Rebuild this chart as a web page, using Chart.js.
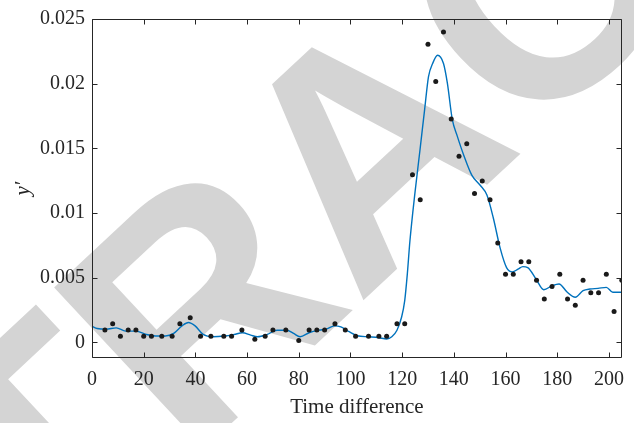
<!DOCTYPE html>
<html>
<head>
<meta charset="utf-8">
<script src="https://cdn.jsdelivr.net/npm/chart.js@4.4.0/dist/chart.umd.min.js"></script>
<style>
  html, body { margin: 0; padding: 0; background: #fff; }
  #wrap { width: 634px; height: 423px; position: relative; }
</style>
</head>
<body>
<div id="wrap"><canvas id="fitChart"></canvas></div>
<script>
// measured samples (black dots)
const sampleX = [5, 8, 11, 14, 17, 20, 23, 27, 31, 34, 38, 42, 46, 51, 54, 58, 63, 67, 70, 75,
  80, 84, 87, 90, 94, 98, 102, 107, 111, 114, 118, 121, 124, 127, 130, 133, 136, 139, 142, 145,
  148, 151, 154, 157, 160, 163, 166, 169, 172, 175, 178, 181, 184, 187, 190, 193, 196, 199, 202, 205];
const sampleY = [0.00096, 0.00144, 0.00048, 0.00096, 0.00096, 0.00048, 0.00048, 0.00048, 0.00048, 0.00144,
  0.00192, 0.00048, 0.00048, 0.00048, 0.00048, 0.00096, 0.00024, 0.00048, 0.00096, 0.00096,
  0.00016, 0.00096, 0.00096, 0.00096, 0.00144, 0.00096, 0.00048, 0.00048, 0.00048, 0.00048,
  0.00144, 0.00144, 0.01296, 0.01104, 0.02304, 0.02016, 0.024, 0.01728, 0.0144, 0.01536,
  0.01152, 0.01248, 0.01104, 0.00768, 0.00528, 0.00528, 0.00624, 0.00624, 0.0048, 0.00336,
  0.00432, 0.00528, 0.00336, 0.00288, 0.0048, 0.00384, 0.00384, 0.00528, 0.0024, 0.0048];

// smoothed fit (blue curve)
const fitX = [0, 2, 5.5, 9.4, 13, 17, 21, 24.6, 28.4, 31.6, 34.8, 37.3, 39.9, 43, 46.8, 51.3, 55, 58.2,
  61.4, 64, 67.8, 71.6, 75.4, 78, 80.5, 84.2, 88, 90.6, 93.8, 96.3, 99.5, 102.7, 107, 111, 114, 116,
  118, 119.8, 121, 122, 123, 125, 126.8, 128.7, 130.2, 131.8, 133.7, 136, 137.5, 139.4, 141.3, 143.9,
  147, 150.2, 152.8, 155.3, 157.9, 160.4, 162.7, 164.8, 166.7, 168.6, 171.8, 174.8, 178.1, 180.7,
  183.9, 187, 190, 192.7, 195.8, 199, 201.5, 205];
const fitY = [0.00125, 0.00108, 0.00103, 0.00113, 0.00088, 0.00088, 0.00062, 0.0005, 0.0005, 0.0007,
  0.00128, 0.00154, 0.00128, 0.00062, 0.00044, 0.0005, 0.00062, 0.00075, 0.00057, 0.00044, 0.00062,
  0.00095, 0.00095, 0.0007, 0.00044, 0.00077, 0.00095, 0.00103, 0.00128, 0.0012, 0.00083, 0.00052,
  0.00044, 0.00037, 0.00027, 0.00044, 0.00095, 0.00197, 0.00324, 0.00528, 0.00782, 0.01164, 0.0147,
  0.018, 0.02055, 0.02156, 0.0222, 0.02156, 0.02004, 0.01724, 0.01597, 0.01444, 0.01292, 0.01215,
  0.01139, 0.0096, 0.00731, 0.00579, 0.00546, 0.00566, 0.00586, 0.00579, 0.0049, 0.00408, 0.00439,
  0.00452, 0.00388, 0.0035, 0.004, 0.00413, 0.00418, 0.00426, 0.00388, 0.00388];

const xTicks = [0, 20, 40, 60, 80, 100, 120, 140, 160, 180, 200];
const yTicks = [0, 0.005, 0.01, 0.015, 0.02, 0.025];
const xTitle = 'Time difference';
const yTitle = 'y\u2032';
const stampText = 'RETRACTED';

const axisColor = '#262626';
const serif = '"Liberation Serif", "Times New Roman", serif';

function pairs(xs, ys) {
  return xs.map((x, i) => ({ x: x, y: ys[i] }));
}

// big grey stamp behind the plot
const stampPlugin = {
  id: 'stamp',
  beforeDraw(chart) {
    const ctx = chart.ctx;
    ctx.save();
    ctx.fillStyle = '#fff';
    ctx.fillRect(0, 0, chart.width, chart.height);
    ctx.fillStyle = '#d4d4d4';
    ctx.font = 'bold 320px "Liberation Sans", Arial, sans-serif';
    ctx.translate(364, 143);
    ctx.rotate(-43 * Math.PI / 180);
    ctx.textAlign = 'center';
    ctx.textBaseline = 'alphabetic';
    ctx.fillText(stampText, 0, 0.716 * 320 / 2);
    ctx.restore();
  }
};

// boxed axes with inward ticks, plus axis titles
const framePlugin = {
  id: 'frame',
  afterDatasetsDraw(chart) {
    const ctx = chart.ctx;
    const a = chart.chartArea;
    const xs = chart.scales.x;
    const ys = chart.scales.y;
    const L = Math.round(a.left) + 0.5, R = Math.round(a.right) - 0.5;
    const T = Math.round(a.top) + 0.5, B = Math.round(a.bottom) - 0.5;
    const len = 5;
    ctx.save();
    ctx.strokeStyle = axisColor;
    ctx.lineWidth = 1;
    ctx.beginPath();
    ctx.rect(L, T, R - L, B - T);
    xTicks.forEach(v => {
      const px = Math.round(xs.getPixelForValue(v)) + 0.5;
      ctx.moveTo(px, B); ctx.lineTo(px, B - len);
      ctx.moveTo(px, T); ctx.lineTo(px, T + len);
    });
    yTicks.forEach(v => {
      const py = Math.round(ys.getPixelForValue(v)) + 0.5;
      ctx.moveTo(L, py); ctx.lineTo(L + len, py);
      ctx.moveTo(R, py); ctx.lineTo(R - len, py);
    });
    ctx.stroke();

    ctx.fillStyle = axisColor;
    ctx.textAlign = 'center';
    ctx.textBaseline = 'middle';
    ctx.font = '21px ' + serif;
    ctx.fillText(xTitle, (a.left + a.right) / 2, 407);
    ctx.translate(23, (a.top + a.bottom) / 2);
    ctx.rotate(-Math.PI / 2);
    ctx.font = 'italic 21px ' + serif;
    ctx.fillText(yTitle, 0, 0);
    ctx.restore();
  }
};

function fmt(v) {
  return String(parseFloat(v.toFixed(4)));
}

new Chart(document.getElementById('fitChart').getContext('2d'), {
  type: 'scatter',
  data: {
    datasets: [
      {
        label: 'samples',
        data: pairs(sampleX, sampleY),
        pointRadius: 2.5,
        pointBackgroundColor: '#1a1a1a',
        pointBorderWidth: 0,
        showLine: false
      },
      {
        label: 'fit',
        data: pairs(fitX, fitY),
        showLine: true,
        borderColor: '#0072bd',
        borderWidth: 1.4,
        pointRadius: 0,
        cubicInterpolationMode: 'monotone',
        fill: false
      }
    ]
  },
  options: {
    responsive: true,
    maintainAspectRatio: false,
    devicePixelRatio: 1,
    animation: false,
    layout: { padding: { left: 0, right: 4, top: 15, bottom: 0 } },
    plugins: {
      legend: { display: false },
      tooltip: { enabled: false }
    },
    scales: {
      x: {
        type: 'linear',
        min: 0,
        max: 205,
        grid: { display: false, drawTicks: false },
        border: { display: false },
        afterBuildTicks: s => { s.ticks = xTicks.map(v => ({ value: v })); },
        afterFit: s => { s.height = 65; },
        ticks: {
          color: axisColor,
          padding: 10,
          maxRotation: 0,
          font: { family: serif, size: 20 },
          callback: v => fmt(v)
        }
      },
      y: {
        type: 'linear',
        min: -0.0012,
        max: 0.025,
        grid: { display: false, drawTicks: false },
        border: { display: false },
        afterBuildTicks: s => { s.ticks = yTicks.map(v => ({ value: v })); },
        afterFit: s => { s.width = 92; },
        ticks: {
          color: axisColor,
          padding: 7,
          font: { family: serif, size: 20 },
          callback: v => fmt(v)
        }
      }
    }
  },
  plugins: [stampPlugin, framePlugin]
});
</script>
</body>
</html>
